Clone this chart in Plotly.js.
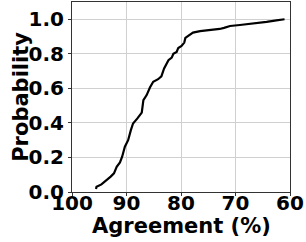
<!DOCTYPE html>
<html><head><meta charset="utf-8">
<script src="https://cdn.plot.ly/plotly-3.0.1.min.js"></script>
<style>html,body{margin:0;padding:0;background:#fff;}#c{width:306px;height:242px;}</style>
</head><body><div id="c"></div>
<script>
const agreement = [95.6,95.5,94.6,93.8,92.9,92.3,91.8,91.2,90.8,90.3,89.7,89.2,88.8,88.0,87.2,86.9,86.3,85.7,85.1,84.2,83.6,83.1,82.3,81.7,81.4,80.8,80.5,79.9,79.4,79.2,78.4,77.8,76.5,75.0,72.9,72.1,71.0,69.2,66.8,64.3,62.5,61.0];
const probability = [0.017,0.03,0.044,0.064,0.089,0.108,0.146,0.171,0.204,0.262,0.30,0.358,0.397,0.426,0.46,0.532,0.561,0.605,0.638,0.653,0.67,0.715,0.763,0.778,0.80,0.811,0.834,0.846,0.865,0.892,0.911,0.923,0.931,0.936,0.944,0.950,0.961,0.967,0.975,0.985,0.994,1.0];
const xTicks = [100,90,80,70,60];
const yTicks = [0,0.2,0.4,0.6,0.8,1.0];
const yTickText = ['0.0','0.2','0.4','0.6','0.8','1.0'];
const xTitle = 'Agreement (%)';
const yTitle = 'Probability';

const tickFont = {family:'DejaVu Sans', size:20, color:'#000', weight:'bold'};
const titleFont = {family:'DejaVu Sans', size:21, color:'#000', weight:'bold'};
Plotly.newPlot('c', [{
  x: agreement, y: probability, type:'scatter', mode:'lines',
  line:{color:'#000', width:2.2}, hoverinfo:'none'
},{
  x: [null], y: [null], xaxis:'x2', yaxis:'y', type:'scatter', mode:'lines', hoverinfo:'none', showlegend:false
}], {
  width:306, height:242,
  margin:{l:72, r:16, t:2, b:50},
  paper_bgcolor:'#fff', plot_bgcolor:'#fff',
  showlegend:false,
  xaxis:{
    range:[100,60], tickvals:xTicks, showticklabels:false,
    showgrid:true, gridcolor:'#d0d0d0', gridwidth:1,
    showline:true, linecolor:'#333', linewidth:1, mirror:true,
    ticks:'outside', ticklen:3, tickcolor:'#333',
    zeroline:false, automargin:false
  },
  xaxis2:{
    range:[100,60], tickvals:xTicks, ticktext:xTicks.map(String),
    overlaying:'x', anchor:'free', position:0.014, side:'bottom',
    showgrid:false, showline:false, ticks:'', zeroline:false, automargin:false,
    tickfont:tickFont
  },
  yaxis:{
    range:[0,1.1], tickvals:yTicks, ticktext:yTickText,
    showgrid:true, gridcolor:'#d0d0d0', gridwidth:1,
    showline:true, linecolor:'#333', linewidth:1, mirror:true,
    ticks:'outside', ticklen:3, tickcolor:'#333',
    zeroline:false, automargin:false,
    tickfont:tickFont
  },
  annotations:[
    {text:xTitle, xref:'paper', yref:'paper', x:0.5, y:-0.18, xanchor:'center', yanchor:'middle', showarrow:false, font:titleFont},
    {text:yTitle, xref:'paper', yref:'paper', x:-0.235, y:0.5, xanchor:'center', yanchor:'middle', textangle:-90, showarrow:false, font:titleFont}
  ]
}, {staticPlot:true, displayModeBar:false});
</script></body></html>
